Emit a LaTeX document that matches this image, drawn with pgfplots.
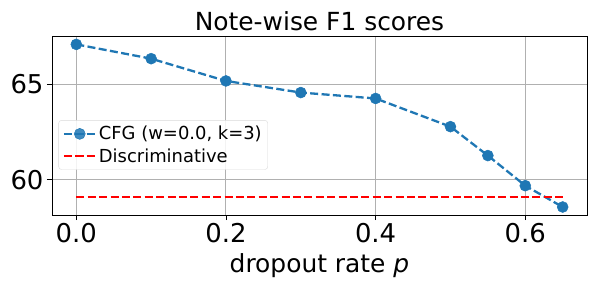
\documentclass[border=0pt]{standalone}
\usepackage{pgfplots}
\pgfplotsset{compat=1.18}
\usepackage{fontspec}
\setmainfont{DejaVu Sans}
\definecolor{mplblue}{HTML}{1F77B4}
\definecolor{mplred}{HTML}{FF0000}
\definecolor{mplgrid}{HTML}{B0B0B0}
\begin{document}
\begin{tikzpicture}[x=1bp,y=1bp]
\useasboundingbox (-52bp,-68bp) rectangle (537bp,215bp);
\begin{axis}[
  at={(0,0)}, anchor=south west,
  scale only axis,
  width=535bp, height=179bp,
  xmin=-0.0325, xmax=0.6825,
  ymin=58.15, ymax=67.55,
  xtick={0,0.2,0.4,0.6},
  ytick={60,65},
  xtick pos=bottom, ytick pos=left,
  xticklabel style={/pgf/number format/fixed,/pgf/number format/fixed zerofill,/pgf/number format/precision=1},
  /pgf/number format/assume math mode=true,
  ticklabel style={font=\fontsize{26}{28}\selectfont},
  tick align=outside,
  major tick length=5bp,
  tick style={black, line width=0.9pt},
  axis line style={line width=0.9pt},
  grid=major,
  grid style={mplgrid, line width=1bp},
  title={Note-wise F1 scores},
  title style={font=\fontsize{25}{28}\selectfont, yshift=-4bp},
  xlabel={dropout rate \textit{p}},
  xlabel style={font=\fontsize{25}{28}\selectfont, yshift=-4bp},
  legend style={at={(0.012,0.53)}, anchor=north west, font=\fontsize{18}{21}\selectfont, draw=gray!30, rounded corners=3pt, fill=white, fill opacity=0.85, text opacity=1, draw opacity=1, inner sep=4bp, row sep=3bp},
  legend cell align=left,
  legend image code/.code={\draw[mark repeat=2, mark phase=2, #1] plot coordinates {(0bp,0bp) (16bp,0bp) (32bp,0bp)};},
]
\addplot[color=mplblue, line width=2.3bp, dash pattern=on 8bp off 3.4bp, mark=*, mark size=5.5bp, mark options={solid, fill=mplblue, draw=mplblue, line width=0.5bp}]
coordinates {(0,67.11) (0.1,66.36) (0.2,65.19) (0.3,64.58) (0.4,64.27) (0.5,62.79) (0.55,61.27) (0.6,59.69) (0.65,58.57)};
\addlegendentry{CFG (w=0.0, k=3)}
\addplot[color=mplred, draw=mplred, line width=2.3bp, dash pattern=on 8bp off 3.4bp, mark=none]
coordinates {(0,59.09) (0.65,59.09)};
\addlegendentry{Discriminative}
\end{axis}
\end{tikzpicture}
\end{document}
